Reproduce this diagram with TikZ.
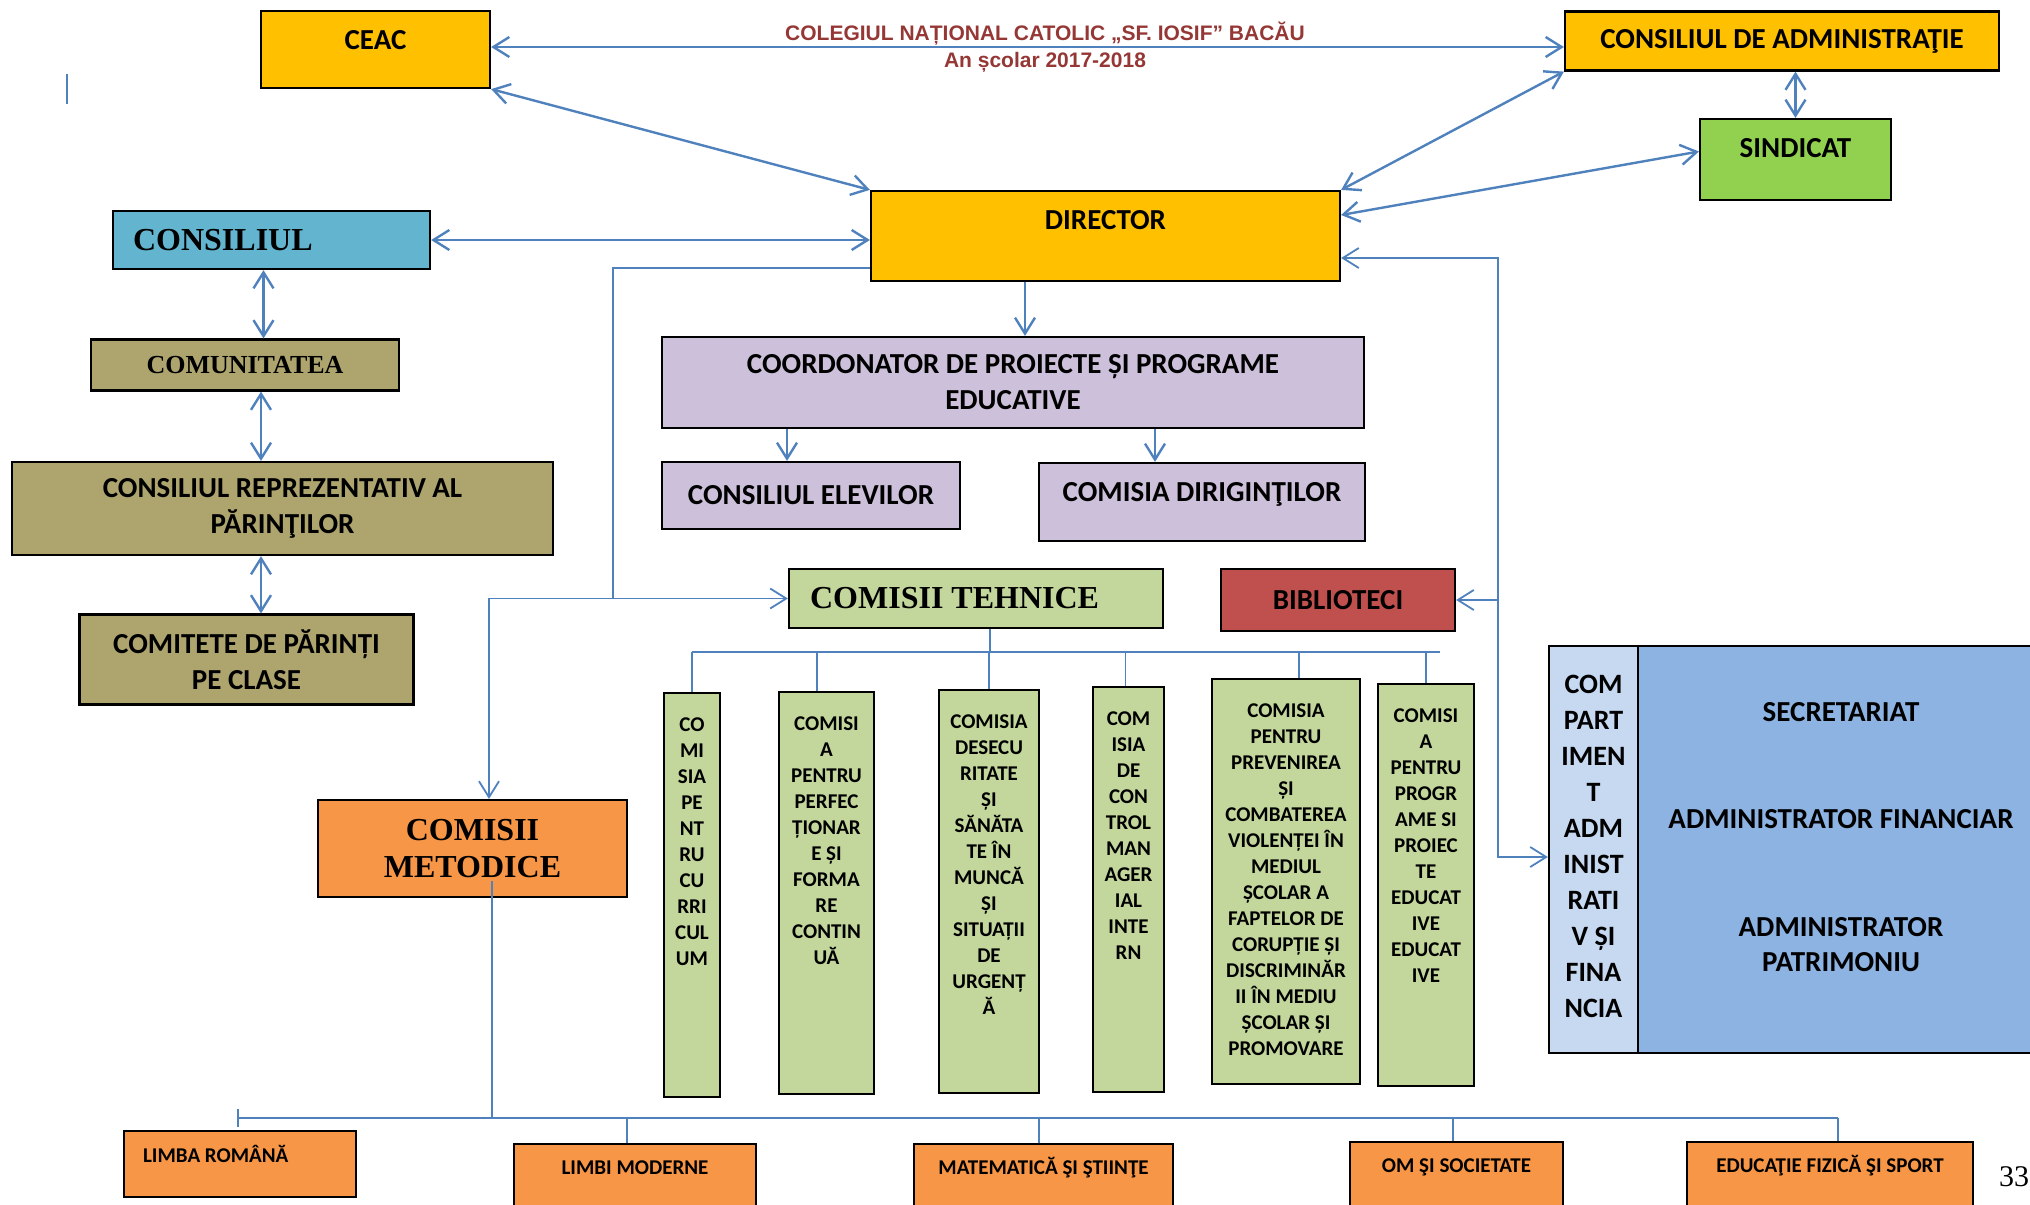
\documentclass[tikz,border=0pt]{standalone}
\usepackage{fontspec}
\setmainfont{Carlito}
\newfontfamily\tnr{Liberation Serif}
\newfontfamily\arl{Liberation Sans}
\usepackage{tikz}
\usetikzlibrary{arrows.meta,positioning}

\definecolor{cyel}{RGB}{255,192,0}
\definecolor{cgrn}{RGB}{146,208,80}
\definecolor{cblu}{RGB}{99,181,207}
\definecolor{coli}{RGB}{173,164,110}
\definecolor{clav}{RGB}{204,192,218}
\definecolor{cpal}{RGB}{195,214,155}
\definecolor{cred}{RGB}{192,80,77}
\definecolor{corg}{RGB}{247,150,70}
\definecolor{clbl}{RGB}{198,217,241}
\definecolor{cmbl}{RGB}{141,179,226}
\definecolor{cline}{RGB}{79,129,189}
\definecolor{ctit}{RGB}{149,55,53}

\begin{document}
\begin{tikzpicture}[x=1pt,y=-1pt,
            box/.style={draw,line width=2.2pt,inner sep=0pt,align=center,font=\bfseries\fontsize{29}{36}\selectfont},
            txt/.style={inner sep=0pt,align=center,font=\bfseries\fontsize{29}{36}\selectfont},
            serif/.style={inner sep=0pt,align=center,font=\tnr\bfseries\fontsize{32}{37}\selectfont},
            col/.style={box,fill=cpal},
            coltxt/.style={txt,font=\bfseries\fontsize{21}{26}\selectfont},
            small/.style={txt,font=\bfseries\fontsize{21}{26}\selectfont},
            arr/.style={draw=cline,line width=2.4pt,>={Straight Barb[length=16pt,width=20pt]}},
            link/.style={draw=cline,line width=1.8pt,>={Straight Barb[length=16pt,width=20pt]}}
          ]
          \useasboundingbox (0,0) rectangle (2030,1205);

          %top
          \node[box,fill=cyel,minimum width=229pt,minimum height=77pt] (ceac) at (375.5,49.5) {};
          \node[txt,below=20pt of ceac.north] (ceact) {CEAC};
          \node[box,fill=cyel,minimum width=434pt,minimum height=59pt] (ca) at (1782,41) {CONSILIUL DE ADMINISTRAŢIE};
          \node[box,fill=cgrn,minimum width=191pt,minimum height=81pt] (sind) at (1795.5,159.5) {};
          \node[txt,below=20pt of sind.north] (sindt) {SINDICAT};
          \node[box,fill=cyel,minimum width=469pt,minimum height=90pt] (dir) at (1105.5,236) {};
          \node[txt,below=20pt of dir.north] (dirt) {DIRECTOR};

          %title
          \node[inner sep=0pt,anchor=base,text=ctit,font=\arl\bfseries\fontsize{21}{27}\selectfont] (tit1) at (1045,40.5) {COLEGIUL NAȚIONAL CATOLIC „SF. IOSIF” BACĂU};
          \node[inner sep=0pt,anchor=base,text=ctit,font=\arl\bfseries\fontsize{21}{27}\selectfont] (tit2) at (1045,67.5) {An școlar 2017-2018};

          %left side
          \node[box,fill=cblu,minimum width=317pt,minimum height=58pt] (cons) at (271.5,240) {};
          \node[serif,right=21pt of cons.west] (const) {CONSILIUL};
          \node[box,fill=coli,minimum width=308pt,minimum height=51pt,font=\tnr\bfseries\fontsize{26}{30}\selectfont] (com) at (245,365) {COMUNITATEA};
          \node[box,fill=coli,minimum width=541pt,minimum height=93pt] (crp) at (282.5,508.5) {CONSILIUL REPREZENTATIV AL\\PĂRINŢILOR};
          \node[box,fill=coli,minimum width=334pt,minimum height=90pt] (cp) at (246.5,659.5) {COMITETE DE PĂRINȚI\\PE CLASE};

          %middle
          \node[box,fill=clav,minimum width=702pt,minimum height=91pt] (coord) at (1013,382.5) {COORDONATOR DE PROIECTE ȘI PROGRAME\\EDUCATIVE};
          \node[box,fill=clav,minimum width=298pt,minimum height=67pt] (cel) at (811,495.5) {CONSILIUL ELEVILOR};
          \node[box,fill=clav,minimum width=326pt,minimum height=78pt] (cdir) at (1202,502) {};
          \node[txt,below=20pt of cdir.north] (cdirt) {COMISIA DIRIGINŢILOR};
          \node[box,fill=cpal,minimum width=374pt,minimum height=59pt] (ct) at (976,598.5) {};
          \node[serif,right=22pt of ct.west] (ctt) {COMISII TEHNICE};
          \node[box,fill=cred,minimum width=234pt,minimum height=62pt] (bib) at (1338,600) {BIBLIOTECI};
          \node[box,fill=corg,minimum width=309pt,minimum height=97pt,font=\tnr\bfseries\fontsize{32}{37}\selectfont] (cm) at (472.5,848.5) {COMISII\\METODICE};

          %comisii tehnice
          \node[col,minimum width=56pt,minimum height=404pt] (c1) at (692,895) {};
          \node[coltxt,below=26pt of c1.north] (c1t) {CO\\MI\\SIA\\PE\\NT\\RU\\CU\\RRI\\CUL\\UM};
          \node[col,minimum width=95pt,minimum height=402pt] (c2) at (826.5,893) {};
          \node[coltxt,below=26pt of c2.north] (c2t) {COMISI\\A\\PENTRU\\PERFEC\\ȚIONAR\\E ȘI\\FORMA\\RE\\CONTIN\\UĂ};
          \node[col,minimum width=100pt,minimum height=403pt] (c3) at (989,891.5) {};
          \node[coltxt,below=26pt of c3.north] (c3t) {COMISIA\\DESECU\\RITATE\\ȘI\\SĂNĂTA\\TE ÎN\\MUNCĂ\\ȘI\\SITUAȚII\\DE\\URGENȚ\\Ă};
          \node[col,minimum width=71pt,minimum height=405pt] (c4) at (1128.5,889.5) {};
          \node[coltxt,below=26pt of c4.north] (c4t) {COM\\ISIA\\DE\\CON\\TROL\\MAN\\AGER\\IAL\\INTE\\RN};
          \node[col,minimum width=148pt,minimum height=405pt] (c5) at (1286,881.5) {};
          \node[coltxt,below=26pt of c5.north] (c5t) {COMISIA\\PENTRU\\PREVENIREA\\ȘI\\COMBATEREA\\VIOLENȚEI ÎN\\MEDIUL\\ȘCOLAR A\\FAPTELOR DE\\CORUPȚIE ȘI\\DISCRIMINĂR\\II ÎN MEDIU\\ȘCOLAR ȘI\\PROMOVARE};
          \node[col,minimum width=96pt,minimum height=402pt] (c6) at (1426,885) {};
          \node[coltxt,below=26pt of c6.north] (c6t) {COMISI\\A\\PENTRU\\PROGR\\AME SI\\PROIEC\\TE\\EDUCAT\\IVE\\EDUCAT\\IVE};

          %compartiment
          \node[box,fill=clbl,minimum width=89pt,minimum height=407pt] (comp) at (1593.5,849.5) {};
          \node[txt,font=\bfseries\fontsize{28}{36}\selectfont,below=30pt of comp.north] (compt) {COM\\PART\\IMEN\\T\\ADM\\INIST\\RATI\\V ȘI\\FINA\\NCIA};
          \node[box,fill=cmbl,minimum width=402pt,minimum height=407pt] (adm) at (1839,849.5) {};
          \node[txt] (sec) at (1841,712) {SECRETARIAT};
          \node[txt] (fin) at (1841,819) {ADMINISTRATOR FINANCIAR};
          \node[txt,font=\bfseries\fontsize{29}{35}\selectfont] (pat) at (1841,944.5) {ADMINISTRATOR\\PATRIMONIU};

          %comisii metodice
          \node[box,fill=corg,minimum width=232pt,minimum height=66pt] (lr) at (240,1164) {};
          \node[small,below right=15pt and 20pt of lr.north west] (lrt) {LIMBA ROMÂNĂ};
          \node[box,fill=corg,minimum width=242pt,minimum height=81pt] (lm) at (635,1184.5) {};
          \node[small,below=18pt of lm.north] (lmt) {LIMBI MODERNE};
          \node[box,fill=corg,minimum width=259pt,minimum height=81pt] (ms) at (1043.5,1184.5) {};
          \node[small,below=14pt of ms.north] (mst) {MATEMATICĂ ŞI ŞTIINŢE};
          \node[box,fill=corg,minimum width=213pt,minimum height=83pt] (os) at (1456.5,1183.5) {};
          \node[small,below=18pt of os.north] (ost) {OM ŞI SOCIETATE};
          \node[box,fill=corg,minimum width=286pt,minimum height=83pt] (ef) at (1830,1183.5) {};
          \node[small,below=14pt of ef.north] (eft) {EDUCAŢIE FIZICĂ ŞI SPORT};
          \node[inner sep=0pt,font=\tnr\fontsize{30}{30}\selectfont] (pg) at (2014,1177) {33};

          \coordinate (lp) at ([xshift=-257pt,yshift=-32pt]dir.west);
          \coordinate (rp) at ([xshift=156.5pt,yshift=-22pt]dir.east);
          \coordinate (j) at (990,652);
          \coordinate (k) at (492,1118);
          \coordinate (kl) at ([xshift=-2pt]lr.north |- k);

          \path[arr]
          ([yshift=2.5pt]ceac.east) edge[<->] ([yshift=2.5pt]ceac.east -| ca.west)
          (ceac.south east) edge[<->] (dir.north west)
          (ca.south west) edge[<->] (dir.north east)
          (ca.south -| sind.north) edge[<->] (sind.north)
          ([yshift=8pt]sind.west) edge[<->] ([yshift=21pt]dir.east)
          (cons.east) edge[<->] (cons.east -| dir.west)
          ([xshift=-8pt]cons.south) edge[<->] ([xshift=-8pt]cons.south |- com.north)
          ([xshift=16pt]com.south) edge[<->] ([xshift=16pt]com.south |- crp.north)
          ([xshift=-21.5pt]crp.south) edge[<->] ([xshift=-21.5pt]crp.south |- cp.north)
          ([xshift=-80.5pt]dir.south) edge[->] ([xshift=-80.5pt]dir.south |- coord.north)
          ([xshift=-24pt]cel.north |- coord.south) edge[->] ([xshift=-24pt]cel.north)
          ([xshift=-47pt]cdir.north |- coord.south) edge[->] ([xshift=-47pt]cdir.north)
          ;

          %loops
          \draw[link,->] ([yshift=-32pt]dir.west) -- (lp) |- (ct.west);
          \draw[link,->] (lp |- ct.west) -| ([xshift=16.5pt]cm.north);
          \draw[link,<->] ([yshift=-22pt]dir.east) -- (rp) |- ([yshift=-7.5pt]comp.west);
          \draw[link,->] (rp |- bib.east) -- (bib.east);

          %branches
          \draw[link] (ct.south -| j) -- (j);
          \draw[link] (c1.north |- j) -- ([xshift=14pt]c6.north |- j);
          \path[link]
          (c1.north) edge (c1.north |- j)
          ([xshift=-9.5pt]c2.north) edge ([xshift=-9.5pt]c2.north |- j)
          (c3.north) edge (c3.north |- j)
          ([xshift=-3pt]c4.north) edge ([xshift=-3pt]c4.north |- j)
          ([xshift=13pt]c5.north) edge ([xshift=13pt]c5.north |- j)
          (c6.north) edge (c6.north |- j)
          ;

          \draw[link] ([xshift=19.5pt,yshift=17pt]cm.south) -- (k);
          \draw[link] (kl) -- ([xshift=8pt]ef.north |- k);
          \draw[link] ([yshift=9pt]kl) -- ([yshift=-9pt]kl);
          \path[link]
          ([xshift=-8pt]lm.north) edge ([xshift=-8pt]lm.north |- k)
          ([xshift=-4.5pt]ms.north) edge ([xshift=-4.5pt]ms.north |- k)
          ([xshift=-3.5pt]os.north) edge ([xshift=-3.5pt]os.north |- k)
          ([xshift=8pt]ef.north) edge ([xshift=8pt]ef.north |- k)
          ;

          \draw[link] (67,74) -- (67,104);
      \end{tikzpicture}
\end{document}
